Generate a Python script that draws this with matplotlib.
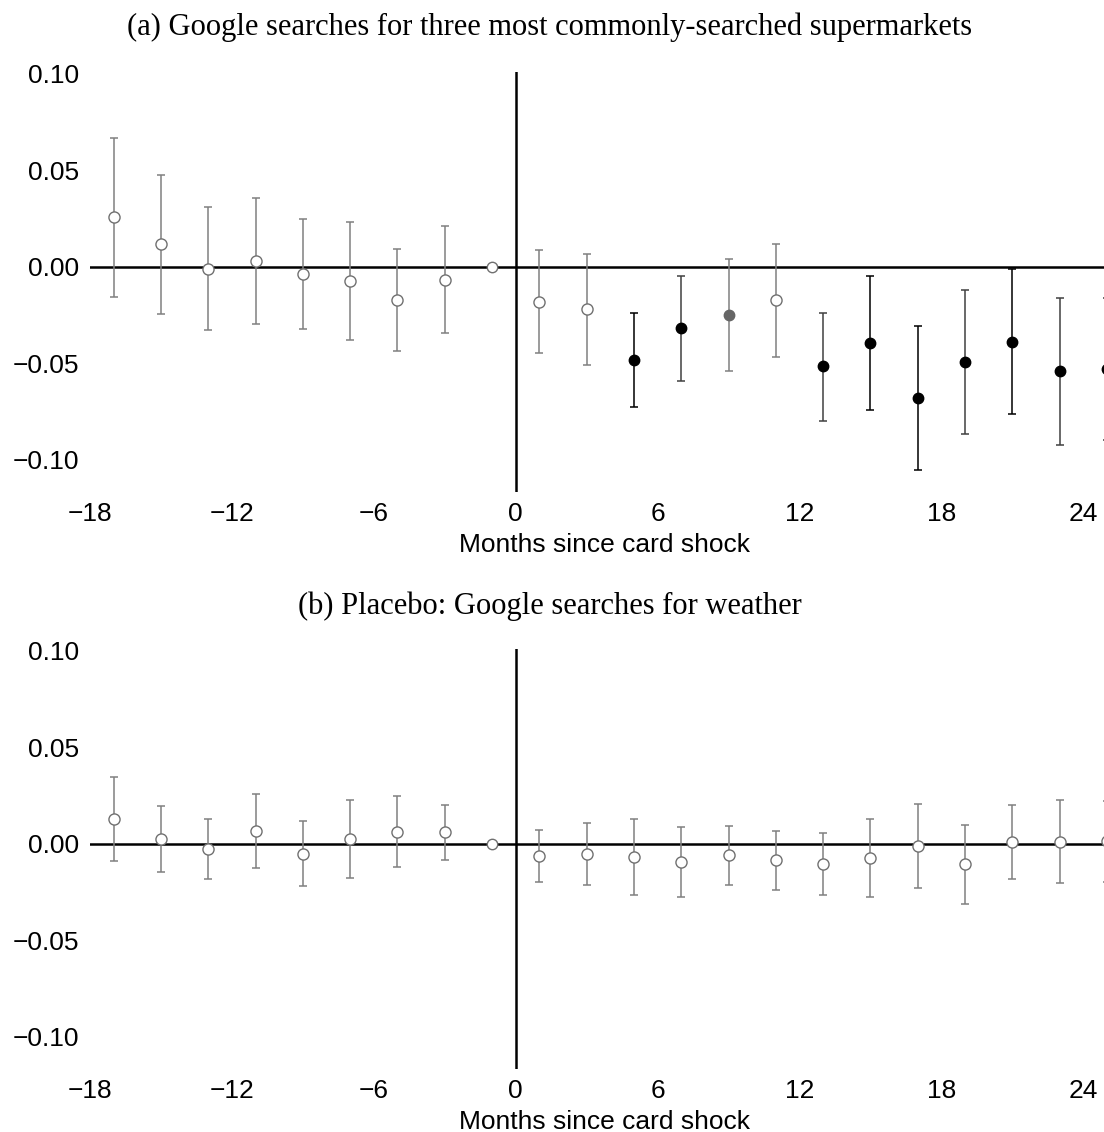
import numpy as np
import matplotlib
matplotlib.use("Agg")
import matplotlib.pyplot as plt

# ── Data ──────────────────────────────────────────────────────────────────────
months = [-17, -15, -13, -11, -9, -7, -5, -3, -1,
          1, 3, 5, 7, 9, 11, 13, 15, 17, 19, 21, 23, 25]

# (a) supermarket searches
coef_a = [0.0257, 0.0117, -0.0012, 0.0029, -0.0038, -0.0073, -0.0171, -0.0067, 0.0,
          -0.0180, -0.0221, -0.0482, -0.0318, -0.0250, -0.0173, -0.0516, -0.0396,
          -0.0680, -0.0492, -0.0387, -0.0542, -0.0530]
hi_a = [0.0670, 0.0477, 0.0309, 0.0356, 0.0247, 0.0231, 0.0092, 0.0212, 0.0,
        0.0086, 0.0066, -0.0237, -0.0045, 0.0040, 0.0117, -0.0237, -0.0047,
        -0.0307, -0.0121, -0.0012, -0.0164, -0.0160]
lo_a = [-0.0157, -0.0242, -0.0326, -0.0295, -0.0321, -0.0377, -0.0434, -0.0344, 0.0,
        -0.0449, -0.0509, -0.0727, -0.0594, -0.0542, -0.0465, -0.0800, -0.0744,
        -0.1055, -0.0865, -0.0762, -0.0921, -0.0900]
# marker style per point: 'o' open, 'f' filled black, 'g' filled grey
style_a = ['o'] * 11 + ['f', 'f', 'g', 'o', 'f', 'f', 'f', 'f', 'f', 'f', 'f']

# (b) placebo: weather searches
coef_b = [0.0130, 0.0026, -0.0028, 0.0067, -0.0050, 0.0026, 0.0062, 0.0059, 0.0,
          -0.0062, -0.0052, -0.0067, -0.0095, -0.0059, -0.0085, -0.0102, -0.0073,
          -0.0012, -0.0106, 0.0010, 0.0012, 0.0014]
hi_b = [0.0346, 0.0197, 0.0128, 0.0261, 0.0118, 0.0227, 0.0249, 0.0202, 0.0,
        0.0073, 0.0109, 0.0128, 0.0085, 0.0093, 0.0066, 0.0057, 0.0128,
        0.0206, 0.0100, 0.0201, 0.0225, 0.0220]
lo_b = [-0.0087, -0.0145, -0.0180, -0.0125, -0.0220, -0.0175, -0.0121, -0.0083, 0.0,
        -0.0197, -0.0215, -0.0265, -0.0277, -0.0215, -0.0237, -0.0263, -0.0273,
        -0.0230, -0.0313, -0.0183, -0.0204, -0.0200]
style_b = ['o'] * 22

bar_col_a = ['#808080'] * 11 + ['#000000', '#404040', '#808080', '#808080',
                                '#404040', '#000000', '#000000', '#404040',
                                '#000000', '#404040', '#404040']
bar_col_b = ['#808080'] * 22

titles = ["(a) Google searches for three most commonly-searched supermarkets",
          "(b) Placebo: Google searches for weather"]
xticks = [-18, -12, -6, 0, 6, 12, 18, 24]
yticks = [-0.10, -0.05, 0.00, 0.05, 0.10]

plt.rcParams['font.family'] = ['Liberation Sans', 'DejaVu Sans']

fig = plt.figure(figsize=(11.04, 11.32), dpi=100)

W, H = 1104, 1132
x0, x1 = -18, 25.5
px_per_month = 23.65
ax_w = (x1 - x0) * px_per_month / W
panels = [
    (coef_a, hi_a, lo_a, style_a, bar_col_a, 492),
    (coef_b, hi_b, lo_b, style_b, bar_col_b, 1069),
]

for i, (coef, hi, lo, style, bcol, bottom_px) in enumerate(panels):
    ax = fig.add_axes([90 / W, (H - bottom_px) / H, ax_w, 420 / H])
    ax.set_xlim(x0, x1)
    ax.set_ylim(-0.1167, 0.101)
    ax.axhline(0, color='black', lw=1.8, zorder=1)
    ax.axvline(0, color='black', lw=1.8, zorder=1)

    for m, c, h, l, s, bc in zip(months, coef, hi, lo, style, bcol):
        if m == -1:
            ax.plot(m, c, 'o', mfc='white', mec='#707070', ms=7.5, mew=1.0, zorder=3)
            continue
        ax.errorbar(m, c, yerr=[[c - l], [h - c]], fmt='none', ecolor=bc,
                    elinewidth=1.1, capsize=3.0, capthick=1.1, zorder=2)
        if s == 'o':
            ax.plot(m, c, 'o', mfc='white', mec='#707070', ms=8, mew=1.0, zorder=3)
        elif s == 'f':
            ax.plot(m, c, 'o', color='black', ms=7.5, zorder=3)
        else:
            ax.plot(m, c, 'o', color='#666666', ms=7.5, zorder=3)

    for sp in ax.spines.values():
        sp.set_visible(False)
    ax.set_xticks(xticks)
    ax.set_yticks(yticks)
    ax.set_yticklabels([f"{v:.2f}".replace('-', '\u2212') for v in yticks])
    ax.tick_params(length=0, labelsize=19, pad=8)
    ax.tick_params(axis='x', pad=7)
    ax.set_xlabel("Months since card shock", fontsize=19, labelpad=5)

    title_y = 27 if i == 0 else 606
    fig.text(550 / W, 1 - title_y / H, titles[i], ha='center', va='center',
             fontsize=22, family=['Liberation Serif', 'DejaVu Serif'])

fig.savefig("out.png", dpi=100)
